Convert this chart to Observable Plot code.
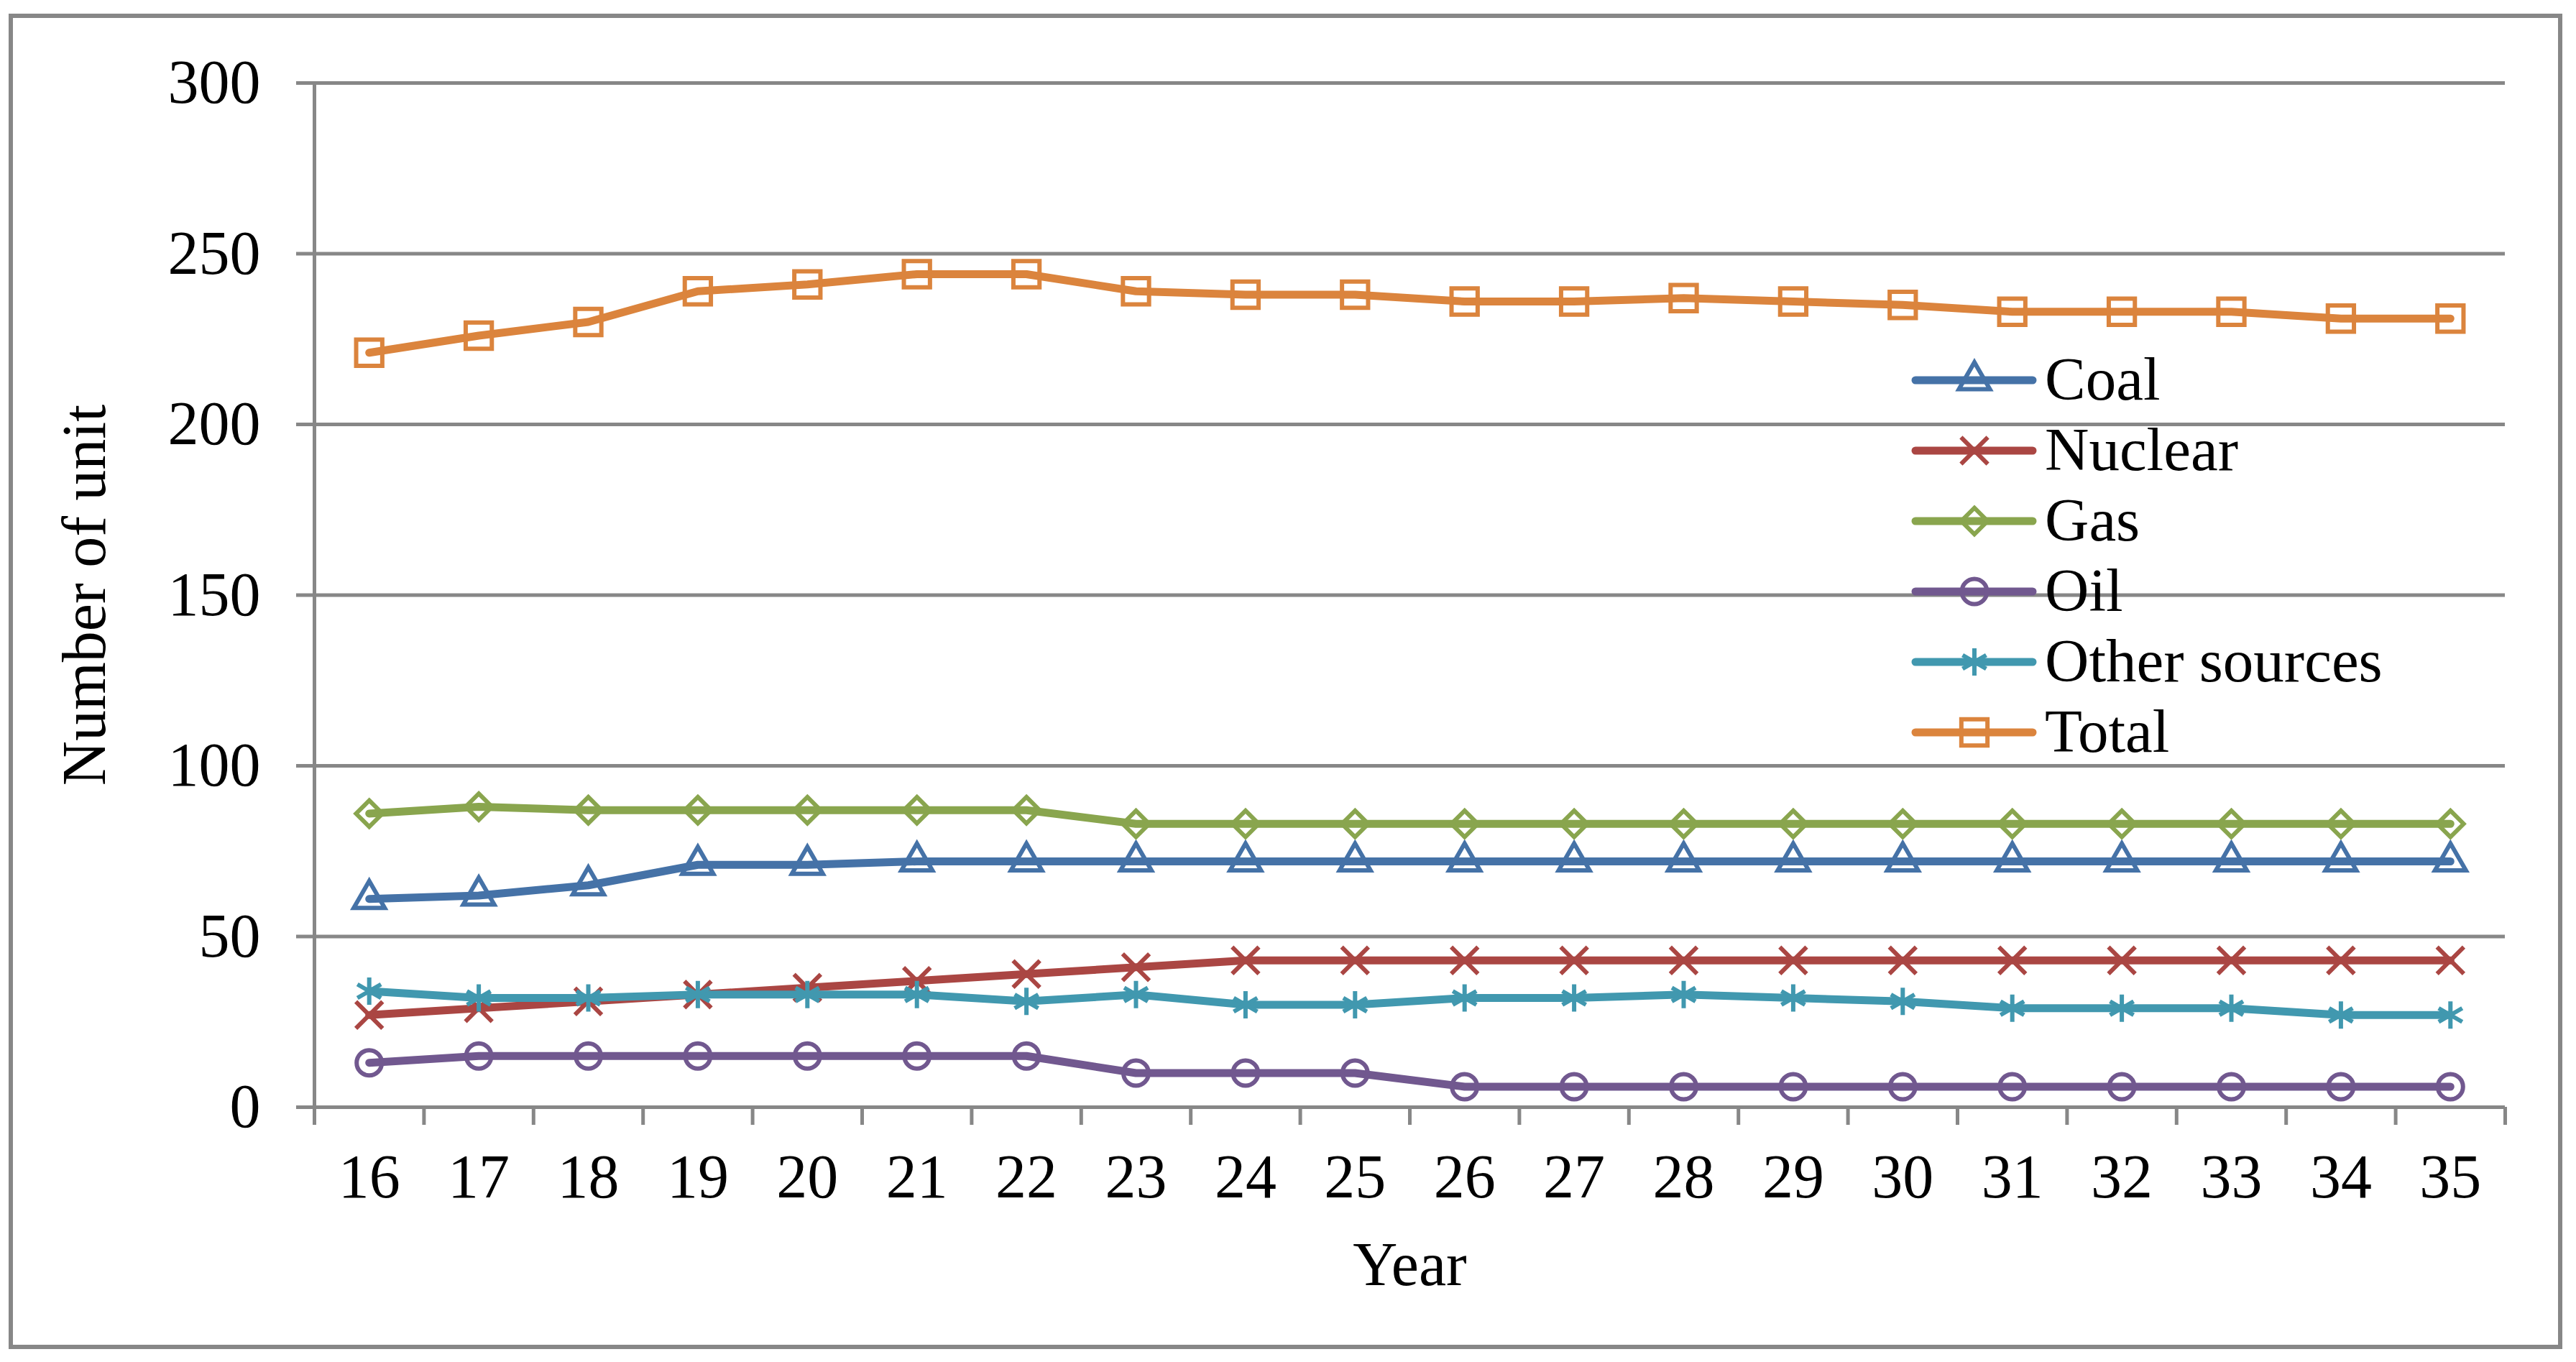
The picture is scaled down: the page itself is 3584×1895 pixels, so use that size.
<!DOCTYPE html>
<html><head><meta charset="utf-8">
<script src="https://cdn.jsdelivr.net/npm/d3@7"></script>
<script src="https://cdn.jsdelivr.net/npm/@observablehq/plot@0.6"></script>
<style>
html,body{margin:0;padding:0;background:#fff;overflow:hidden}
#wrap{position:relative;width:3584px;height:1895px;background:#fff}
#wrap svg{display:block}
#border{position:absolute;left:12px;top:19px;width:3553px;height:1858px;box-sizing:border-box;border:6px solid #878787;pointer-events:none}
#legend{position:absolute;left:0;top:0;overflow:visible}
</style></head><body><div id="wrap"><div id="border"></div></div>
<script>
// ---- data ----
const years = [16,17,18,19,20,21,22,23,24,25,26,27,28,29,30,31,32,33,34,35];
const coal    = [61,62,65,71,71,72,72,72,72,72,72,72,72,72,72,72,72,72,72,72];
const nuclear = [27,29,31,33,35,37,39,41,43,43,43,43,43,43,43,43,43,43,43,43];
const gas     = [86,88,87,87,87,87,87,83,83,83,83,83,83,83,83,83,83,83,83,83];
const oil     = [13,15,15,15,15,15,15,10,10,10,6,6,6,6,6,6,6,6,6,6];
const other   = [34,32,32,33,33,33,31,33,30,30,32,32,33,32,31,29,29,29,27,27];
const total   = [221,226,230,239,241,244,244,239,238,238,236,236,237,236,235,233,233,233,231,231];
const seriesNames = ["Coal","Nuclear","Gas","Oil","Other sources","Total"];
const seriesValues = [coal, nuclear, gas, oil, other, total];
const yTicks = [0,50,100,150,200,250,300];
const xTitle = "Year";
const yTitle = "Number of unit";

// ---- styles ----
const colors = ["#4572A7","#AA4643","#89A54E","#71588F","#4198AF","#DB843D"];
const symbols = ["triangle","times","diamond2","circle","asterisk","square"];
const d3symbols = [d3.symbolTriangle, d3.symbolTimes, d3.symbolDiamond2, d3.symbolCircle, d3.symbolAsterisk, d3.symbolSquare];
const radii = [16,17,16.5,17.5,18,20.5];
const gray = "#878787";
const font = "Liberation Serif, Times New Roman, serif";
const fs = 86;
const lineW = 11;
const markW = 6;

const boundaries = years.map(y => y - 0.5).concat([years[years.length - 1] + 0.5]);

const seriesMarks = [];
seriesNames.forEach((name, s) => {
  const rows = years.map((yr, i) => ({year: yr, value: seriesValues[s][i], series: name}));
  seriesMarks.push(Plot.line(rows, {x: "year", y: "value", stroke: colors[s], strokeWidth: lineW, strokeLinejoin: "round", strokeLinecap: "round"}));
  seriesMarks.push(Plot.dot(rows, {x: "year", y: "value", symbol: () => symbols[s], r: radii[s], stroke: colors[s], strokeWidth: markW, fill: "none"}));
});

const chart = Plot.plot({
  width: 3584,
  height: 1895,
  marginLeft: 437,
  marginRight: 99,
  marginTop: 115,
  marginBottom: 355,
  style: {fontFamily: font, fontSize: fs + "px", color: "black", background: "transparent", overflow: "visible"},
  x: {type: "linear", domain: [boundaries[0], boundaries[boundaries.length - 1]]},
  y: {type: "linear", domain: [yTicks[0], yTicks[yTicks.length - 1]]},
  symbol: {type: "identity"},
  marks: [
    Plot.gridY(yTicks, {stroke: gray, strokeOpacity: 1, strokeWidth: 5}),
    Plot.ruleX([boundaries[0]], {stroke: gray, strokeWidth: 5}),
    Plot.axisY({ticks: yTicks, tickSize: 25, tickPadding: 50, stroke: gray, strokeWidth: 5, label: null, fontSize: fs, fill: "black"}),
    Plot.axisX({ticks: boundaries, tickSize: 25, tickFormat: () => "", stroke: gray, strokeWidth: 5, label: null}),
    Plot.axisX({ticks: years, tickSize: 0, tickPadding: 64, tickFormat: d => String(d), label: null, fontSize: fs, fill: "black"}),
    Plot.text([xTitle], {text: d => d, frameAnchor: "bottom", lineAnchor: "bottom", dy: 247, fontSize: fs, fill: "black"}),
    Plot.text([yTitle], {text: d => d, frameAnchor: "left", textAnchor: "middle", rotate: -90, lineAnchor: "bottom", dx: -292, fontSize: fs, fill: "black"}),
    ...seriesMarks
  ]
});
document.getElementById("wrap").appendChild(chart);

// ---- legend (HTML overlay) ----
const leg = d3.select("#wrap").append("svg").attr("id", "legend").attr("width", 3584).attr("height", 1895);
seriesNames.forEach((name, s) => {
  const g = leg.append("g").attr("transform", `translate(0,${529 + s * 98})`);
  g.append("line").attr("x1", 2665).attr("x2", 2828).attr("y1", 0).attr("y2", 0)
    .attr("stroke", colors[s]).attr("stroke-width", lineW).attr("stroke-linecap", "round");
  g.append("path").attr("d", d3.symbol(d3symbols[s], Math.PI * radii[s] * radii[s])())
    .attr("transform", "translate(2747,0)").attr("fill", "none").attr("stroke", colors[s]).attr("stroke-width", markW);
  g.append("text").attr("x", 2845).attr("y", 0).attr("dy", "0.32em")
    .attr("font-family", font).attr("font-size", 85).attr("fill", "black").text(name);
});
</script>
</body></html>
